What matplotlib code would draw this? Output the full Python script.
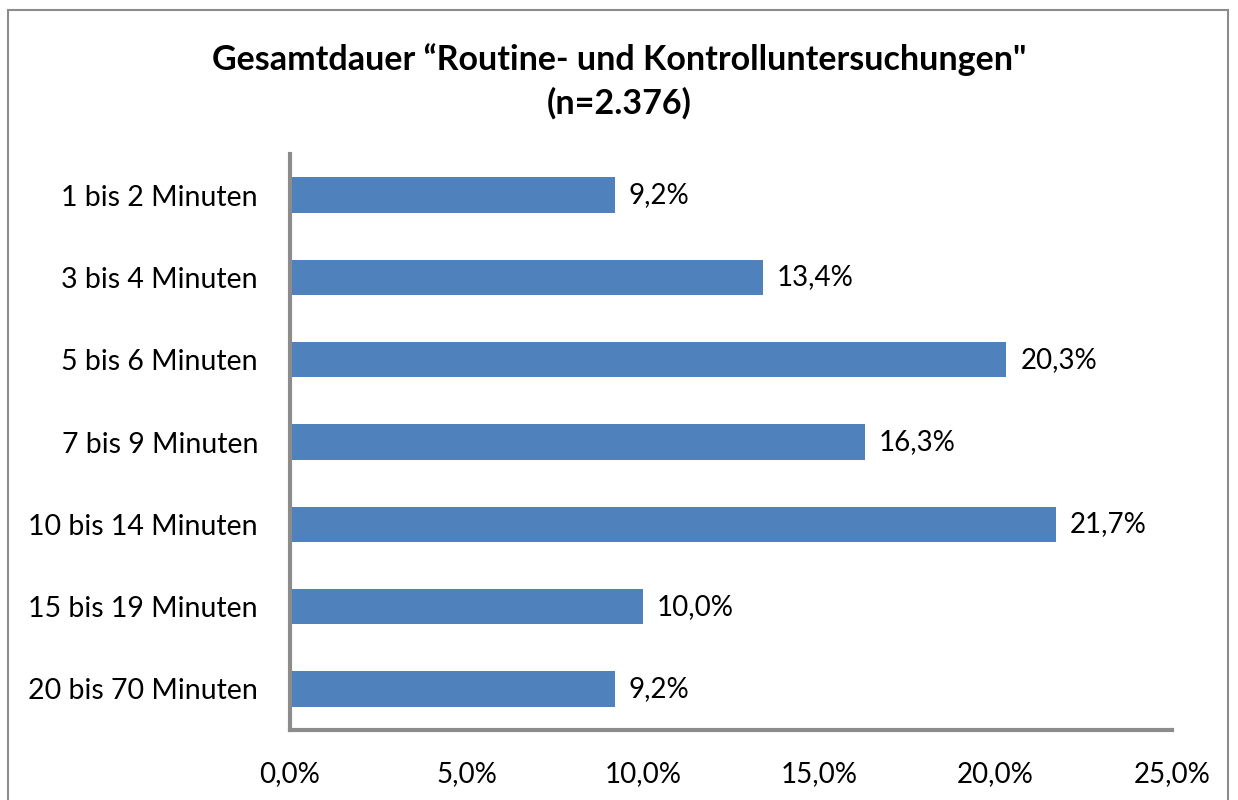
import matplotlib.pyplot as plt
from matplotlib.patches import Rectangle

categories = ['1 bis 2 Minuten', '3 bis 4 Minuten', '5 bis 6 Minuten', '7 bis 9 Minuten',
              '10 bis 14 Minuten', '15 bis 19 Minuten', '20 bis 70 Minuten']
values = [9.2, 13.4, 20.3, 16.3, 21.7, 10.0, 9.2]
xticks = [0, 5, 10, 15, 20, 25]

plt.rcParams['font.family'] = ['Lato', 'DejaVu Sans']

fig = plt.figure(figsize=(12.38, 8), dpi=100)
fig.patches.append(Rectangle((8 / 1238, -0.01), (1228 - 8) / 1238, 1 - 10 / 800 + 0.01,
                             transform=fig.transFigure, fill=False,
                             edgecolor='#8c8c8c', linewidth=1.5))

ax = fig.add_axes([290 / 1238, 1 - 730 / 800, (1172 - 290) / 1238, (730 - 154) / 800])
y = range(len(categories))
ax.barh(y, values, height=0.43, color='#4f81bd')
ax.set_ylim(len(categories) - 0.5, -0.5)
ax.set_xlim(0, 25)
ax.set_yticks(list(y))
ax.set_yticklabels(categories, fontsize=20.5)
ax.set_xticks(xticks)
ax.set_xticklabels([f'{t:.1f}%'.replace('.', ',') for t in xticks], fontsize=20)
ax.tick_params(length=0)
ax.tick_params(axis='y', pad=23)
ax.tick_params(axis='x', pad=22)
for s in ['top', 'right']:
    ax.spines[s].set_visible(False)
for s in ['left', 'bottom']:
    ax.spines[s].set_color('#8c8c8c')
    ax.spines[s].set_linewidth(3)

for i, v in enumerate(values):
    ax.text(v + 0.4, i, f'{v:.1f}%'.replace('.', ','), va='center', ha='left', fontsize=20)

fig.text(0.5, 1 - 60 / 800, 'Gesamtdauer \u201cRoutine- und Kontrolluntersuchungen"',
         ha='center', va='center', fontsize=24.5, fontweight='bold')
fig.text(0.5, 1 - 103 / 800, '(n=2.376)', ha='center', va='center', fontsize=24.5, fontweight='bold')

fig.savefig('out.png', dpi=100)
